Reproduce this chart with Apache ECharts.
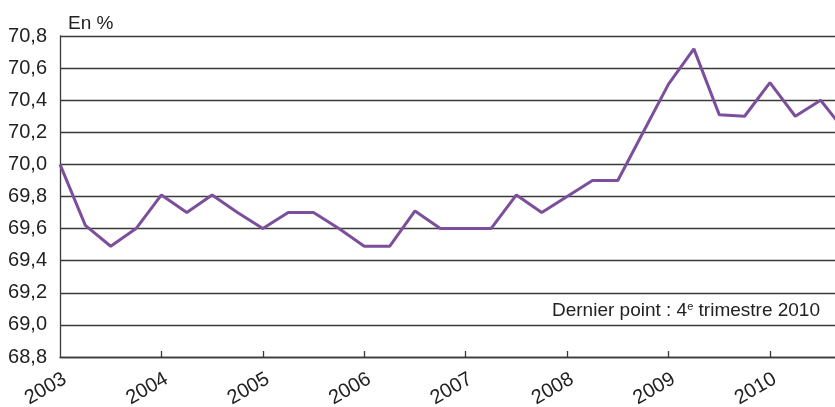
<!DOCTYPE html>
<html>
<head>
<meta charset="utf-8">
<script src="https://cdn.jsdelivr.net/npm/echarts@6/dist/echarts.min.js"></script>
<style>
  html, body { margin: 0; padding: 0; background: #fff; }
  #main { width: 835px; height: 407px; }
</style>
</head>
<body>
<div id="main"></div>
<script>
// trimestres 2003 T1 -> 2010 T4
const years = ['2003', '2004', '2005', '2006', '2007', '2008', '2009', '2010'];
const quarters = [];
years.forEach(y => { for (let q = 1; q <= 4; q++) quarters.push(y + '-T' + q); });

// taux en %
const values = [
  70.0, 69.62, 69.49, 69.6,
  69.81, 69.7, 69.81, 69.7,
  69.6, 69.7, 69.7, 69.6,
  69.49, 69.49, 69.71, 69.6,
  69.6, 69.6, 69.81, 69.7,
  69.8, 69.9, 69.9, 70.2,
  70.5, 70.72, 70.31, 70.3,
  70.51, 70.3, 70.4, 70.2
];

const yTicks = [68.8, 70.8, 0.2]; // min, max, pas
const font = '"Liberation Sans", Arial, sans-serif';
const gridColor = '#3a3a3a';

const chart = echarts.init(document.getElementById('main'));

chart.setOption({
  animation: false,
  title: {
    text: 'En %',
    left: 63,
    top: 9,
    textStyle: { fontFamily: font, fontSize: 19, fontWeight: 'normal', color: '#222' }
  },
  grid: { left: 60, top: 36, bottom: 50, right: -11, outerBoundsMode: 'none', containLabel: false },
  xAxis: {
    type: 'category',
    data: quarters,
    boundaryGap: false,
    axisLine: { lineStyle: { color: gridColor, width: 1.3 } },
    axisTick: {
      inside: true,
      length: 6,
      interval: (i) => i % 4 === 0 && i > 0,
      lineStyle: { color: gridColor, width: 1.3 }
    },
    axisLabel: {
      interval: (i) => i % 4 === 0,
      formatter: (v) => v.slice(0, 4),
      rotate: 30,
      verticalAlign: 'top',
      margin: 12,
      fontFamily: font,
      fontSize: 20,
      color: '#222'
    },
    splitLine: { show: false }
  },
  yAxis: {
    type: 'value',
    min: yTicks[0],
    max: yTicks[1],
    interval: yTicks[2],
    axisLine: { show: true, lineStyle: { color: gridColor, width: 1.3 } },
    axisTick: { show: false },
    axisLabel: {
      margin: 13,
      fontFamily: font,
      fontSize: 20,
      color: '#222',
      formatter: (v) => v.toFixed(1).replace('.', ',')
    },
    splitLine: { lineStyle: { color: gridColor, width: 1.3 } }
  },
  graphic: [{
    type: 'text',
    right: 15,
    top: 301,
    style: {
      text: '{a|Dernier point : 4}{s|e}{a| trimestre 2010}',
      rich: {
        a: { fontFamily: font, fontSize: 19, fill: '#222' },
        s: { fontFamily: font, fontSize: 11, fill: '#222', verticalAlign: 'top', padding: [0, 0, 8, 0] }
      }
    }
  }],
  series: [{
    type: 'line',
    data: values,
    symbol: 'none',
    clip: false,
    lineStyle: { color: '#7b4f9b', width: 3 }
  }]
});
</script>
</body>
</html>
